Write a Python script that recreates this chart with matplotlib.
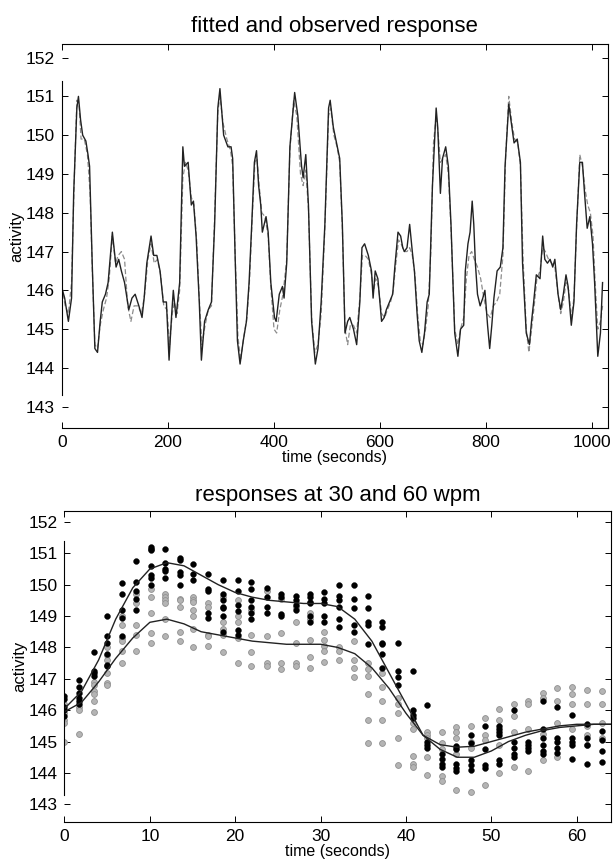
import matplotlib
matplotlib.use("Agg")
import matplotlib.pyplot as plt

# ---- top panel: observed and fitted activity over 1000 s ----
obs_t = [0, 1, 5, 12, 18, 22, 28, 31, 35, 39, 45, 49, 52, 57, 62, 67, 72, 76, 82, 87,
         95, 102, 107, 112, 118, 126, 132, 138, 145, 151, 155, 160, 168, 173, 179, 185,
         191, 197, 202, 207, 210, 215, 222, 228, 231, 238, 244, 248, 253, 259, 263, 269,
         276, 282, 288, 294, 298, 305, 313, 319, 322, 327, 331, 336, 342, 348, 353, 358,
         363, 367, 371, 375, 378, 385, 389, 394, 401, 404, 410, 416, 419, 424, 430, 439,
         445, 452, 455, 460, 465, 471, 478, 483, 489, 496, 503, 506, 512, 518, 524, 529,
         534, 539, 543, 550, 556, 562, 566, 571, 578, 584, 587, 591, 596, 603, 608, 612,
         618, 624, 628, 634, 639, 643, 646, 651, 656, 661, 665, 670, 674, 679, 684, 689,
         693, 699, 706, 709, 714, 718, 724, 729, 734, 741, 747, 752, 758, 761, 766, 770,
         774, 777, 780, 784, 789, 794, 798, 803, 807, 811, 815, 821, 827, 832, 836, 843,
         849, 853, 859, 865, 869, 876, 882, 886, 890, 895, 902, 907, 911, 916, 921, 926,
         930, 936, 941, 946, 951, 955, 961, 966, 971, 977, 982, 986, 991, 996, 1001, 1005,
         1011, 1016, 1020]
obs_v = [146.0, 146.0, 145.8, 145.2, 145.8, 148.5, 150.7, 151.0, 150.4, 150.0, 149.85, 149.5,
         149.2, 146.7, 144.5, 144.4, 145.2, 145.7, 145.9, 146.2, 147.5, 146.6, 146.8, 146.5,
         146.2, 145.5, 145.8, 145.9, 145.6, 145.3, 145.8, 146.7, 147.4, 146.9, 146.9, 146.5,
         145.7, 145.7, 144.2, 145.4, 146.0, 145.3, 146.2, 149.7, 149.2, 149.3, 148.2, 148.3,
         147.4, 145.7, 144.2, 145.2, 145.5, 145.7, 147.7, 150.7, 151.2, 150.0, 149.7, 149.7,
         149.4, 146.7, 144.7, 144.1, 144.7, 145.2, 146.2, 147.7, 149.3, 149.6, 148.7, 148.2,
         147.5, 147.9, 147.5, 146.2, 145.3, 145.2, 145.9, 146.1, 145.8, 146.7, 149.7, 151.1,
         150.5, 149.2, 148.9, 149.5, 148.2, 145.2, 144.1, 144.5, 145.7, 147.7, 150.7, 150.9,
         150.2, 149.8, 149.4, 147.7, 144.9, 145.2, 145.3, 145.0, 144.6, 145.7, 147.1, 147.2,
         146.9, 146.5, 145.8, 146.5, 146.3, 145.2, 145.3, 145.5, 145.7, 145.9, 146.6, 147.5,
         147.4, 147.1, 147.0, 147.1, 147.7, 147.0, 146.5, 145.4, 144.7, 144.4, 144.9, 145.7,
         145.9, 148.7, 150.7, 150.2, 148.5, 149.4, 149.7, 149.2, 147.7, 144.9, 144.3, 145.0,
         145.1, 146.5, 147.2, 147.5, 148.3, 147.7, 146.7, 145.9, 145.6, 145.8, 146.0, 145.1,
         144.5, 145.1, 145.8, 146.5, 146.6, 147.1, 149.2, 150.8, 150.2, 149.8, 149.9, 149.3,
         146.7, 144.9, 144.6, 145.2, 145.7, 146.4, 146.3, 147.4, 146.8, 146.7, 146.8, 146.6,
         146.8, 145.9, 145.5, 145.9, 146.4, 146.1, 145.1, 145.7, 147.7, 149.3, 149.3, 148.5,
         147.6, 147.9, 147.2, 146.2, 144.3, 144.9, 146.2]

fit_t = [0, 6, 12, 18, 23, 28, 32, 36, 42, 48, 53, 57, 62, 67, 72, 78, 84, 89, 95, 101,
         106, 112, 118, 124, 130, 136, 143, 150, 156, 162, 168, 174, 180, 186, 192, 198,
         203, 208, 212, 217, 222, 228, 233, 238, 244, 249, 254, 259, 264, 270, 276, 282,
         288, 294, 298, 304, 311, 318, 322, 327, 332, 337, 343, 349, 354, 359, 364, 368,
         372, 377, 383, 389, 394, 400, 405, 411, 417, 424, 430, 437, 443, 450, 455, 460,
         465, 471, 477, 483, 489, 496, 503, 507, 513, 519, 524, 529, 534, 539, 544, 550,
         556, 562, 567, 572, 578, 584, 588, 592, 597, 603, 609, 614, 620, 625, 630, 635,
         640, 646, 651, 656, 661, 666, 671, 676, 681, 686, 691, 696, 701, 706, 710, 714,
         719, 724, 729, 734, 741, 747, 752, 758, 763, 768, 773, 778, 784, 790, 796, 802,
         808, 814, 820, 826, 832, 837, 843, 849, 854, 860, 865, 870, 876, 881, 886, 891,
         896, 902, 907, 912, 918, 924, 930, 936, 941, 946, 951, 956, 961, 966, 971, 977,
         982, 987, 992, 997, 1002, 1006, 1011, 1016, 1020]
fit_v = [146.1, 145.6, 145.4, 146.2, 148.8, 150.9, 150.8, 149.9, 149.9, 149.5, 148.5, 146.6,
         144.6, 144.5, 145.1, 145.5, 145.8, 146.3, 147.4, 146.7, 146.9, 147.0, 146.8, 145.6,
         145.2, 145.6, 145.6, 145.4, 145.9, 146.8, 147.2, 146.7, 146.8, 146.4, 145.6, 145.5,
         144.6, 145.4, 145.7, 145.4, 146.0, 148.9, 149.3, 149.1, 148.4, 148.2, 147.3, 145.8,
         144.6, 145.1, 145.5, 145.6, 147.9, 150.6, 151.0, 150.3, 149.9, 149.6, 149.2, 146.8,
         144.8, 144.2, 144.8, 145.3, 146.3, 147.9, 149.3, 149.4, 148.7, 148.0, 147.9, 147.4,
         146.1, 145.0, 144.9, 145.5, 145.9, 146.8, 149.6, 150.9, 150.5, 149.0, 148.7, 149.1,
         148.1, 145.3, 144.4, 144.6, 145.4, 147.6, 150.5, 150.7, 150.0, 149.7, 149.3, 147.6,
         145.0, 144.6, 145.1, 145.1, 144.9, 145.8, 146.9, 146.9, 146.8, 146.4, 146.0, 146.3,
         146.1, 145.4, 145.3, 145.5, 145.7, 146.0, 146.7, 147.3, 147.2, 147.0, 147.0, 147.1,
         146.9, 146.4, 145.4, 144.7, 144.6, 145.0, 145.6, 147.0, 149.8, 150.5, 150.0, 149.3,
         149.4, 149.5, 149.0, 147.6, 145.0, 144.6, 145.0, 145.3, 146.3, 146.9, 147.0, 146.8,
         146.6, 146.3, 145.8, 145.4, 145.3, 145.6, 145.7, 145.9, 146.9, 149.4, 151.0, 150.3,
         149.9, 149.8, 149.2, 146.8, 145.0, 144.4, 145.0, 145.6, 146.3, 146.5, 147.1, 147.0,
         146.8, 146.7, 146.6, 145.9, 145.4, 145.7, 146.2, 146.0, 145.3, 145.8, 147.6, 149.5,
         149.2, 148.6, 148.2, 148.0, 147.4, 146.2, 145.0, 145.2, 145.6]

# ---- bottom panel: repeated responses at 30 wpm (black) and 60 wpm (grey) ----
pt_times = [0, 1.7, 3.4, 5.0, 6.7, 8.4, 10.1, 11.8, 13.5, 15.1, 16.8, 18.6, 20.3, 21.9,
            23.7, 25.4, 27.1, 28.8, 30.4, 32.2, 33.9, 35.6, 37.2, 39.1, 40.8, 42.5, 44.2,
            45.8, 47.6, 49.3, 50.9, 52.6, 54.3, 56.0, 57.7, 59.4, 61.2, 62.9]
wpm30 = [
    [146.45, 146.35, 146.1, 146.0, 145.8],
    [146.95, 146.75, 146.55, 146.4, 146.3, 146.2],
    [147.85, 147.25, 147.2, 147.1],
    [149.0, 148.35, 148.15, 147.8, 147.45, 147.4],
    [150.05, 149.7, 149.2, 148.95, 148.35],
    [150.75, 150.1, 149.8, 149.55, 149.2],
    [151.2, 151.15, 151.1, 150.6, 150.3, 150.2, 150.0],
    [151.15, 150.7, 150.5, 150.45, 150.2],
    [150.85, 150.8, 150.4, 150.3, 150.0],
    [150.65, 150.35, 150.15],
    [150.35, 149.85, 149.8, 149.1, 148.95],
    [150.15, 149.7, 149.5, 149.3, 149.25, 149.0, 148.5],
    [150.15, 149.8, 149.35, 149.15, 148.55, 148.4],
    [150.1, 149.85, 149.5, 149.3, 149.1, 148.9],
    [149.9, 149.6, 149.3, 149.1],
    [149.7, 149.6, 149.05, 149.0],
    [149.65, 149.5, 149.35, 149.2],
    [149.7, 149.6, 149.45, 149.4, 149.0, 148.8],
    [149.75, 149.55, 149.4, 149.0, 148.8],
    [150.0, 149.65, 149.5, 149.3, 148.9, 148.65],
    [150.0, 149.55, 149.25, 148.7, 148.5],
    [149.65, 149.25, 148.8, 148.7, 148.1],
    [148.8, 148.65, 148.15, 148.1, 147.8, 147.35],
    [148.15, 147.25, 147.05, 146.8],
    [147.25, 146.0, 145.85, 145.75],
    [146.15, 145.0, 144.9, 144.8],
    [144.6, 144.45, 144.3, 144.2],
    [144.85, 144.75, 144.3, 144.15, 144.05],
    [145.2, 144.95, 144.4, 144.25, 144.1],
    [145.5, 144.75, 144.25, 144.15],
    [145.5, 145.4, 145.3, 145.2, 144.4, 144.3],
    [146.0, 145.0, 144.8, 144.6, 144.5],
    [145.0, 144.9, 144.8, 144.7],
    [146.3, 145.4, 145.1, 144.9, 144.7, 144.6],
    [146.1, 145.1, 145.0, 144.8, 144.65],
    [145.85, 145.1, 145.0, 144.9, 144.45],
    [145.55, 145.1, 144.9, 144.3],
    [145.35, 145.05, 144.7, 144.35],
]
wpm60 = [
    [146.2, 145.9, 145.7, 145.6, 145.0],
    [146.1, 146.0, 145.25],
    [146.9, 146.8, 146.6, 146.5, 146.3, 145.95],
    [148.0, 147.75, 147.6, 147.2, 146.85, 146.8],
    [149.0, 148.7, 148.3, 148.2, 147.9, 147.5],
    [149.7, 149.4, 148.7, 148.4, 147.9],
    [149.85, 149.6, 149.1, 148.45, 148.15],
    [149.7, 149.6, 149.5, 149.4, 148.9, 148.35],
    [149.55, 149.5, 149.3, 148.5, 148.2],
    [149.6, 149.5, 149.45, 149.2, 149.0, 148.6, 148.0],
    [149.4, 149.3, 148.4, 148.35, 148.05],
    [149.6, 148.8, 148.6, 148.4, 147.85],
    [149.5, 149.0, 148.8, 148.3, 147.5],
    [149.2, 148.4, 147.85, 147.4],
    [149.8, 148.35, 147.5, 147.4],
    [149.55, 148.45, 147.5, 147.3],
    [149.3, 148.8, 148.15, 147.5, 147.4],
    [149.1, 148.9, 148.25, 147.7, 147.35],
    [148.5, 148.25, 148.05, 147.9, 147.55],
    [148.0, 147.9, 147.6],
    [148.2, 147.6, 147.35, 147.05],
    [147.5, 147.3, 147.1, 146.5, 145.7, 144.95],
    [147.2, 146.75, 146.3, 145.7, 144.95],
    [146.4, 146.2, 145.9, 145.1, 144.25],
    [145.6, 145.4, 144.55, 144.3, 144.2],
    [145.3, 145.2, 145.1, 144.5, 143.95],
    [145.3, 144.95, 144.75, 143.9, 143.75],
    [145.45, 145.3, 145.1, 144.8, 144.6, 143.45],
    [145.5, 145.0, 144.8, 143.4],
    [145.75, 145.2, 145.05, 143.6],
    [146.05, 145.7, 144.9, 144.0],
    [146.2, 145.8, 145.3, 144.2],
    [146.3, 146.2, 145.4, 144.05],
    [146.55, 146.4, 145.25, 144.4],
    [146.7, 146.3, 145.6, 144.5],
    [146.75, 146.5, 146.2, 145.4],
    [146.65, 146.2, 145.5, 145.2, 144.9],
    [146.6, 146.2, 145.6, 145.1],
]

curve_t = [0, 2, 4, 6, 8, 10, 12, 14, 16, 18, 20, 22, 24, 26, 28, 30, 32, 34, 36, 38,
           40, 42, 44, 46, 48, 50, 52, 54, 56, 58, 60, 62, 64]
curve30 = [146.05, 146.6, 147.6, 148.9, 149.9, 150.5, 150.7, 150.6, 150.3, 150.0, 149.75,
           149.6, 149.5, 149.45, 149.4, 149.4, 149.3, 148.9, 148.2, 147.2, 146.2, 145.2,
           144.75, 144.5, 144.5, 144.7, 145.0, 145.2, 145.35, 145.45, 145.5, 145.55, 145.55]
curve60 = [145.95, 146.25, 146.9, 147.65, 148.3, 148.8, 148.9, 148.75, 148.5, 148.4, 148.3,
           148.2, 148.15, 148.1, 148.1, 148.1, 148.0, 147.8, 147.35, 146.7, 145.9, 145.2,
           144.9, 144.82, 144.85, 145.0, 145.15, 145.3, 145.4, 145.5, 145.55, 145.55, 145.55]

plt.rcParams['font.family'] = ['Liberation Sans', 'DejaVu Sans']

fig = plt.figure(figsize=(6.14, 8.63), dpi=100)
ax1 = fig.add_axes([0.101, 0.504, 0.889, 0.445])
ax2 = fig.add_axes([0.105, 0.048, 0.890, 0.360])

ax1.plot(fit_t, fit_v, color='#8c8c8c', lw=0.9, ls=(0, (4, 2)))
ax1.plot(obs_t, obs_v, color='#222222', lw=1.0)
ax1.set_xlim(0, 1030)
ax1.set_xticks([0, 200, 400, 600, 800, 1000])
ax1.set_title("fitted and observed response", fontsize=16, pad=9)
ax1.set_xlabel("time (seconds)", fontsize=11.5, labelpad=0)

for i, tt in enumerate(pt_times):
    ax2.plot([tt] * len(wpm60[i]), wpm60[i], ls='none', marker='o', ms=4.2,
             mfc='#b4b4b4', mec='#909090', mew=0.6)
    ax2.plot([tt] * len(wpm30[i]), wpm30[i], ls='none', marker='o', ms=4.2,
             mfc='black', mec='black', mew=0.3)
ax2.plot(curve_t, curve30, color='#222222', lw=1.0)
ax2.plot(curve_t, curve60, color='#222222', lw=1.0)
ax2.set_xlim(0, 64)
ax2.set_xticks([0, 10, 20, 30, 40, 50, 60])
ax2.set_title("responses at 30 and 60 wpm", fontsize=16, pad=7)
ax2.set_xlabel("time (seconds)", fontsize=11.5, labelpad=0)

for ax in (ax1, ax2):
    ax.set_ylim(142.45, 152.35)
    ax.set_yticks(range(143, 153))
    ax.set_ylabel("activity", fontsize=12, labelpad=1)
    ax.tick_params(direction='in', length=4, width=0.7, top=True, right=True,
                   labelsize=12.5, pad=5)
    for s in ax.spines.values():
        s.set_linewidth(0.8)
    ax.spines['left'].set_bounds(143.3, 151.4)

fig.savefig("out.png", dpi=100)
